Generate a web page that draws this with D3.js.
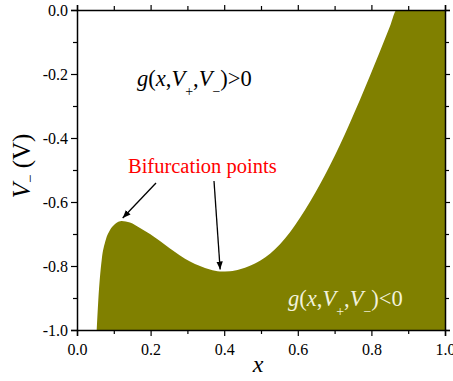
<!DOCTYPE html>
<html><head><meta charset="utf-8">
<script src="https://cdn.jsdelivr.net/npm/d3@7"></script>
<style>body{margin:0;background:#fff}svg{display:block}svg text{font-family:'Liberation Serif','Times New Roman',serif}</style>
</head><body>
<script>
// Boundary g(x,V+,V-)=0
const xVals = [0.0535,0.0579,0.0617,0.0671,0.0780,0.0897,0.1033,0.1215,0.1440,0.1712,0.1984,0.2255,0.2527,0.2799,0.3071,0.3342,0.3614,0.3886,0.4158,0.4429,0.4701,0.4973,0.5245,0.5516,0.5788,0.6060,0.6332,0.6603,0.6875,0.7147,0.7418,0.7690,0.7962,0.8234,0.8505,0.8688,1.0];
const vMinus = [-1.0,-0.9063,-0.8438,-0.7813,-0.7188,-0.6875,-0.6688,-0.6594,-0.6641,-0.6813,-0.7000,-0.7219,-0.7453,-0.7672,-0.7859,-0.8000,-0.8109,-0.8172,-0.8163,-0.8100,-0.7991,-0.7834,-0.7616,-0.7319,-0.6944,-0.6491,-0.5991,-0.5444,-0.4850,-0.4209,-0.3522,-0.2803,-0.2053,-0.1288,-0.0506,0,0];
const xMajor = [0.0,0.2,0.4,0.6,0.8,1.0];
const xMinor = [0.1,0.3,0.5,0.7,0.9];
const yMajor = [0.0,-0.2,-0.4,-0.6,-0.8,-1.0];
const yMinor = [-0.1,-0.3,-0.5,-0.7,-0.9];
const bifX = [0.1215,0.389];
const bifV = [-0.6594,-0.8172];

const W=453,H=381;
const L=77,R=445,T=10,B=330;
const FONT="'Liberation Serif','Times New Roman',serif";
const svg=d3.select("body").append("svg").attr("width",W).attr("height",H)
  .attr("font-family",FONT);
const x=d3.scaleLinear().domain([0,1]).range([L,R]);
const y=d3.scaleLinear().domain([-1,0]).range([B,T]);
const data=xVals.map((d,i)=>({x:d,v:vMinus[i]}));

svg.append("clipPath").attr("id","clip").append("rect")
  .attr("x",L).attr("y",T).attr("width",R-L).attr("height",B-T);
const area=d3.area().x(d=>x(d.x)).y0(y(-1)).y1(d=>y(d.v)).curve(d3.curveMonotoneX);
svg.append("path").datum(data).attr("d",area).attr("fill","#808000")
  .attr("clip-path","url(#clip)");

const fmt=d=>d.toFixed(1);
function ax(gen,vals,size,labels,tr,pad){
  const g=svg.append("g").attr("transform",tr)
    .call(gen.tickValues(vals).tickSize(size).tickPadding(pad).tickFormat(labels?fmt:(()=>"")));
  g.attr("font-family",FONT).attr("font-size",16);
  g.select(".domain").attr("stroke-width",1.5).attr("stroke","#000");
  g.selectAll(".tick line").attr("stroke-width",1.2).attr("stroke","#000");
  g.selectAll("text").attr("fill","#000").style("font-family",FONT).style("font-size","16px");
  return g;
}
ax(d3.axisBottom(x),xMajor,6,true,`translate(0,${B})`,8);
ax(d3.axisBottom(x),xMinor,4,false,`translate(0,${B})`,3).select(".domain").remove();
ax(d3.axisTop(x),xMajor,5,false,`translate(0,${T})`,3);
ax(d3.axisTop(x),xMinor,4,false,`translate(0,${T})`,3).select(".domain").remove();
ax(d3.axisLeft(y),yMajor,6,true,`translate(${L},0)`,3);
ax(d3.axisLeft(y),yMinor,4,false,`translate(${L},0)`,3).select(".domain").remove();
ax(d3.axisRight(y),yMajor,5,false,`translate(${R},0)`,3);
ax(d3.axisRight(y),yMinor,4,false,`translate(${R},0)`,3).select(".domain").remove();

// axis titles
svg.append("text").attr("x",258).attr("y",372).attr("text-anchor","middle")
  .style("font-size","24px").style("font-style","italic").text("x");
const yl=svg.append("text").attr("transform","translate(30,166) rotate(-90)")
  .attr("text-anchor","middle").style("font-size","25px");
yl.append("tspan").style("font-style","italic").text("V");
yl.append("tspan").attr("dy",5).style("font-size","15px").text("−");
yl.append("tspan").attr("dy",-5).text(" (V)");

function gLabel(px,py,sym,color){
  const t=svg.append("text").attr("x",px).attr("y",py).style("font-size","22.5px").attr("fill",color);
  t.append("tspan").style("font-style","italic").text("g");
  t.append("tspan").text("(");
  t.append("tspan").style("font-style","italic").text("x");
  t.append("tspan").text(",");
  t.append("tspan").style("font-style","italic").text("V");
  t.append("tspan").attr("dy",10).style("font-size","14px").text("+");
  t.append("tspan").attr("dy",-10).text(",");
  t.append("tspan").style("font-style","italic").text("V");
  t.append("tspan").attr("dy",10).style("font-size","14px").text("−");
  t.append("tspan").attr("dy",-10).text(")"+sym+"0");
}
gLabel(137,86,">","#000");
gLabel(288,306,"<","#f2f2dc");

svg.append("text").attr("x",128).attr("y",173).style("font-size","20.5px")
  .attr("fill","#ff0000").text("Bifurcation points");

svg.append("defs").append("marker").attr("id","ah").attr("viewBox","0 0 10 10")
  .attr("refX",10).attr("refY",5).attr("markerWidth",8).attr("markerHeight",8)
  .attr("orient","auto").attr("markerUnits","userSpaceOnUse")
  .append("path").attr("d","M0,1 L10,5 L0,9 Z").attr("fill","#000");
const starts=[[156,183],[214,181]];
bifX.forEach((bx,i)=>{
  const ex=x(bx)+(i===0?1:0), ey=y(bifV[i])-(i===0?3:2);
  svg.append("line").attr("x1",starts[i][0]).attr("y1",starts[i][1])
    .attr("x2",ex).attr("y2",ey).attr("stroke","#000").attr("stroke-width",1.3)
    .attr("marker-end","url(#ah)");
});
</script>
</body></html>
